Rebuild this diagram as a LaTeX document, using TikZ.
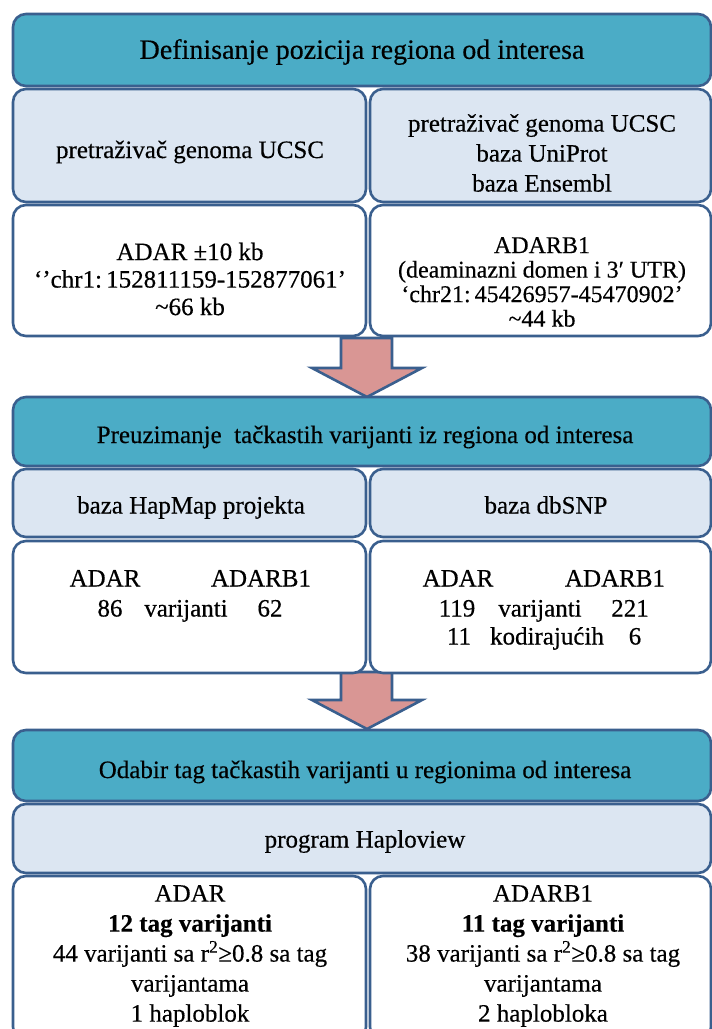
\documentclass[tikz,border=0pt]{standalone}
\usepackage{fontspec}
\setmainfont{Liberation Serif}[FakeBold=0.4]
\definecolor{bord}{HTML}{3A5F8E}
\definecolor{hdrfill}{HTML}{4BACC6}
\definecolor{lightfill}{HTML}{DCE6F2}
\definecolor{arrowfill}{HTML}{D99694}
\begin{document}
\begin{tikzpicture}[x=1pt,y=-1pt,
  box/.style={draw=bord, line width=2.6pt, rounded corners=13pt, inner sep=0pt},
  hdr/.style={box, fill=hdrfill},
  sub/.style={box, fill=lightfill},
  res/.style={box, fill=white},
  txt/.style={font=\fontsize{25}{30}\selectfont, align=center, inner sep=0pt},
  word/.style={txt, text height=17pt, text depth=6pt},
  bigarrow/.style={draw=bord, line width=2.6pt, fill=arrowfill, line join=miter}]
\useasboundingbox (0,0) rectangle (712,1029);
\clip (0,0) rectangle (712,1029);
\fill[white] (0,0) rectangle (712,1029);

% arrows (drawn first, boxes on top)
\draw[bigarrow] (341,338) -- (392,338) -- (392,368) -- (422,368) -- (367,397) -- (312,368) -- (341,368) -- cycle;
\draw[bigarrow] (341,672) -- (392,672) -- (392,700) -- (422,700) -- (367,729) -- (312,700) -- (341,700) -- cycle;

% section 1
\node[hdr, minimum width=698pt, minimum height=72pt] (h1) at (362,50) {};
\node[sub, minimum width=353pt, minimum height=113pt] (s1l) at (189.5,145.5) {};
\node[sub, minimum width=341pt, minimum height=113pt] (s1r) at (540.5,145.5) {};
\node[res, minimum width=353pt, minimum height=131pt] (r1l) at (189.5,270.5) {};
\node[res, minimum width=341pt, minimum height=131pt] (r1r) at (540.5,270.5) {};

% section 2
\node[hdr, minimum width=698pt, minimum height=69pt] (h2) at (362,431.5) {};
\node[sub, minimum width=353pt, minimum height=68pt] (s2l) at (189.5,503) {};
\node[sub, minimum width=341pt, minimum height=68pt] (s2r) at (540.5,503) {};
\node[res, minimum width=353pt, minimum height=132pt] (r2l) at (189.5,607) {};
\node[res, minimum width=341pt, minimum height=132pt] (r2r) at (540.5,607) {};

% section 3
\node[hdr, minimum width=698pt, minimum height=71pt] (h3) at (362,765.5) {};
\node[sub, minimum width=698pt, minimum height=69pt] (s3) at (362,838.5) {};
\node[res, minimum width=353pt, minimum height=164pt] (r3l) at (189.5,958) {};
\node[res, minimum width=341pt, minimum height=164pt] (r3r) at (540.5,958) {};

% texts section 1
\node[txt, font=\fontsize{28}{32}\selectfont] (t1) at (362,52) {Definisanje pozicija regiona od interesa};
\node[txt] (t1l) at (190,152) {pretraživač genoma UCSC};
\node[txt] (t1r) at (542,153) {pretraživač genoma UCSC\\baza UniProt\\baza Ensembl};
\node[txt, font=\fontsize{25}{27.5}\selectfont] (u1l) at (190,279) {ADAR ±10 kb\\‘’chr1:\,152811159-152877061’\\\textasciitilde66 kb};
\node[txt, font=\fontsize{24}{24.5}\selectfont] (u1r) at (542,282) {ADARB1\\(deaminazni domen i 3′ UTR)\\‘chr21:\,45426957-45470902’\\\textasciitilde44 kb};

% texts section 2
\node[txt] (t2) at (365,437) {Preuzimanje\ \ tačkastih varijanti iz regiona od interesa};
\node[word] (t2l) at (191,508) {baza HapMap projekta};
\node[word] (t2r) at (546,508) {baza dbSNP};
\node[word] (a1) at (105,581) {ADAR};
\node[word] (a2) at (261,581) {ADARB1};
\node[word] (a3) at (110,611) {86};
\node[word] (a4) at (186,611) {varijanti};
\node[word] (a5) at (270,611) {62};
\node[word] (b1) at (458,581) {ADAR};
\node[word] (b2) at (615,581) {ADARB1};
\node[word] (b3) at (457,611) {119};
\node[word] (b4) at (540,611) {varijanti};
\node[word] (b5) at (630,611) {221};
\node[word] (b6) at (459,639) {11};
\node[word] (b7) at (547,639) {kodirajućih};
\node[word] (b8) at (635,639) {6};

% texts section 3
\node[txt] (t3) at (365,772) {Odabir tag tačkastih varijanti u regionima od interesa};
\node[word] (t3s) at (365,842) {program Haploview};
\node[txt] (v1) at (190,956) {ADAR\\\textbf{12 tag varijanti}\\44 varijanti sa r\textsuperscript{2}≥0.8 sa tag\\varijantama\\1 haploblok};
\node[txt] (v2) at (543,956) {ADARB1\\\textbf{11 tag varijanti}\\38 varijanti sa r\textsuperscript{2}≥0.8 sa tag\\varijantama\\2 haplobloka};
\end{tikzpicture}
\end{document}
